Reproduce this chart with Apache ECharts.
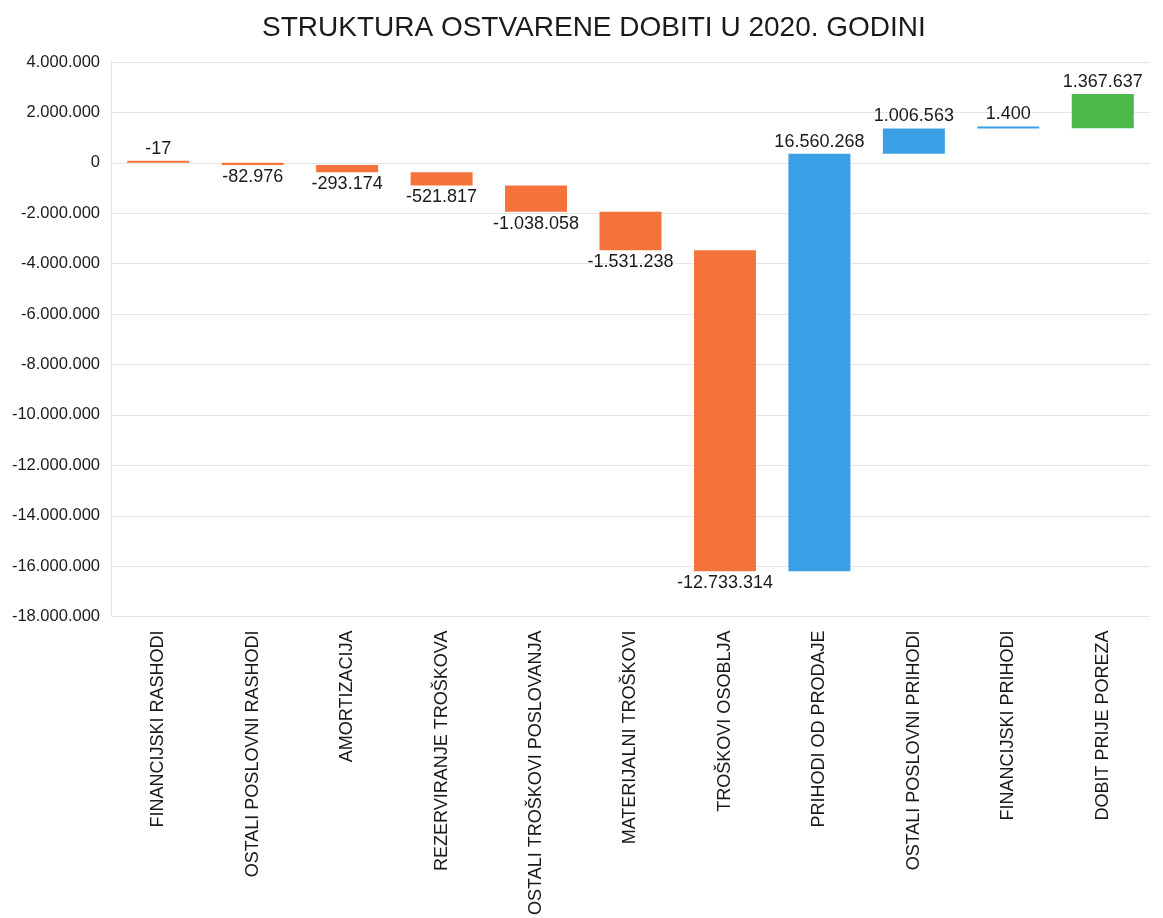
<!DOCTYPE html>
<html>
<head>
<meta charset="utf-8">
<title>Struktura ostvarene dobiti</title>
<script src="https://cdn.jsdelivr.net/npm/echarts@6/dist/echarts.min.js"></script>
<style>
  html, body { margin: 0; padding: 0; background: #fff; }
  #chart { width: 1163px; height: 918px; }
</style>
</head>
<body>
<div id="chart"></div>
<script>
const categories = [
  'FINANCIJSKI RASHODI',
  'OSTALI POSLOVNI RASHODI',
  'AMORTIZACIJA',
  'REZERVIRANJE TROŠKOVA',
  'OSTALI TROŠKOVI POSLOVANJA',
  'MATERIJALNI TROŠKOVI',
  'TROŠKOVI OSOBLJA',
  'PRIHODI OD PRODAJE',
  'OSTALI POSLOVNI PRIHODI',
  'FINANCIJSKI PRIHODI',
  'DOBIT PRIJE POREZA'
];
const values = [-17, -82976, -293174, -521817, -1038058, -1531238, -12733314, 16560268, 1006563, 1400, 1367637];
const yTicks = { min: -18000000, max: 4000000, interval: 2000000 };

const ORANGE = '#f5733a';
const BLUE = '#3aa0e6';
const GREEN = '#4cb847';

// waterfall: each bar starts where the previous one ended
const baseData = [];
const heightData = [];
let running = 0;
values.forEach((v, i) => {
  const low = Math.min(running, running + v);
  baseData.push(low);
  heightData.push({
    value: Math.abs(v),
    itemStyle: { color: i === values.length - 1 ? GREEN : (v < 0 ? ORANGE : BLUE) },
    label: { position: (v < 0 && i > 0) ? 'bottom' : 'top' }
  });
  running += v;
});

const fmt = n => {
  const s = Math.abs(Math.round(n)).toString().replace(/\B(?=(\d{3})+(?!\d))/g, '.');
  return (n < 0 ? '-' : '') + s;
};

const chart = echarts.init(document.getElementById('chart'));
chart.setOption({
  animation: false,
  textStyle: { fontFamily: 'Liberation Sans, Arial, sans-serif' },
  title: {
    text: 'STRUKTURA OSTVARENE DOBITI U 2020. GODINI',
    left: 257,
    top: 9,
    textStyle: { fontSize: 28, fontWeight: 'normal', color: '#1a1a1a' }
  },
  grid: { left: 111, right: 13, top: 62, bottom: 300 },
  xAxis: {
    type: 'category',
    data: categories,
    axisLine: { show: false },
    axisTick: { show: false },
    axisLabel: { rotate: 90, fontSize: 18, color: '#1a1a1a', margin: 14, interval: 0 }
  },
  yAxis: {
    type: 'value',
    min: yTicks.min,
    max: yTicks.max,
    interval: yTicks.interval,
    axisLine: { show: true, lineStyle: { color: '#e4e4e4' } },
    axisTick: { show: false },
    splitLine: { lineStyle: { color: '#e6e6e6' } },
    axisLabel: { fontSize: 16.5, color: '#1a1a1a', margin: 11, formatter: v => fmt(v) }
  },
  series: [
    {
      type: 'bar',
      stack: 'wf',
      stackStrategy: 'all',
      itemStyle: { color: 'transparent' },
      emphasis: { disabled: true },
      data: baseData
    },
    {
      type: 'bar',
      stack: 'wf',
      stackStrategy: 'all',
      barWidth: 62,
      barMinHeight: 2,
      label: {
        show: true,
        fontSize: 18,
        color: '#1a1a1a',
        distance: 3,
        formatter: p => fmt(values[p.dataIndex])
      },
      data: heightData
    }
  ]
});
</script>
</body>
</html>
